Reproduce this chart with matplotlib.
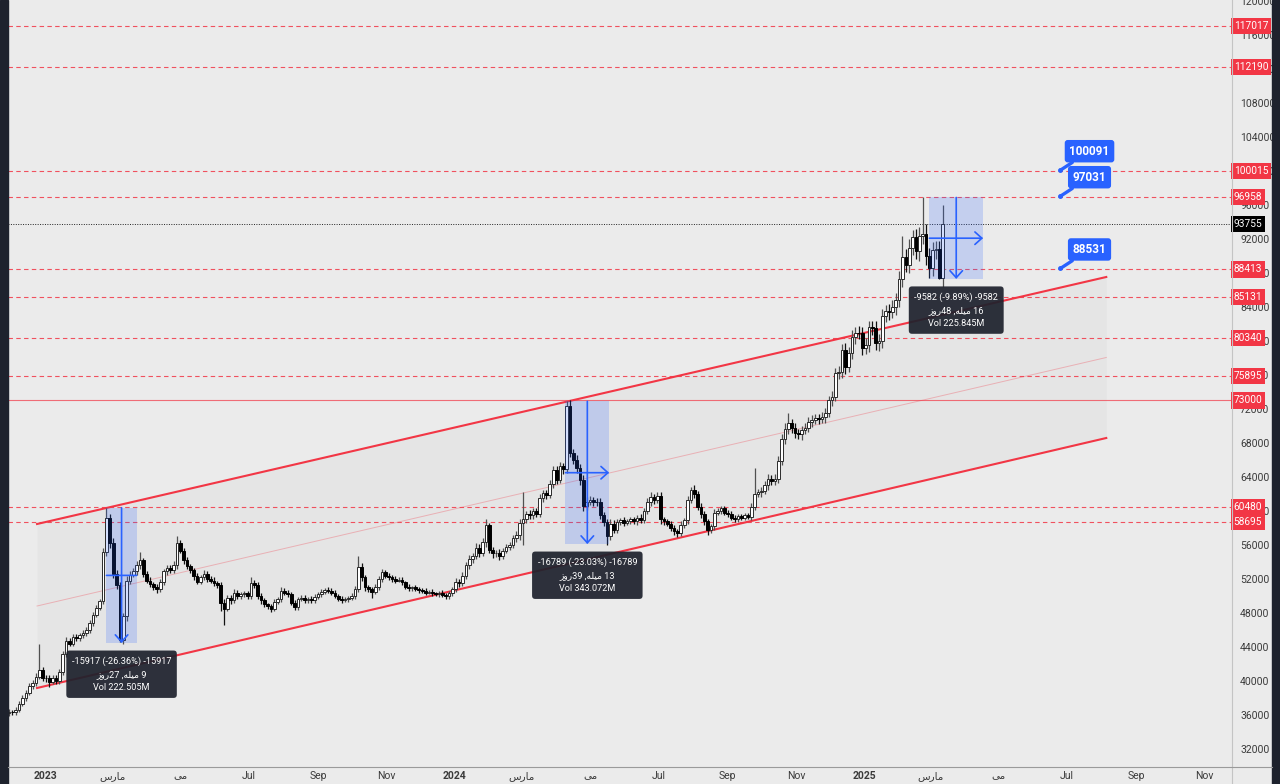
import numpy as np
import pandas as pd
import matplotlib
matplotlib.use('Agg')
import matplotlib.pyplot as plt
import matplotlib.dates as mdates
import matplotlib.transforms as mtransforms
from matplotlib.patches import Rectangle
from matplotlib.lines import Line2D

plt.rcParams['font.family'] = ['Roboto', 'DejaVu Sans']

# ---- 3-day candles (open = previous close) ----
first_open = 36200
closes = [
    36400, 36300, 36600, 37300, 38000, 38600, 39400, 39800, 40500, 41300,
    40400, 40300, 39900, 40400, 40000, 41000, 43200, 44700, 44400, 45200,
    45000, 45400, 45600, 46000, 46800, 47800, 48600, 49400, 55200, 59200,
    56200, 52600, 51300, 44800, 47600, 51800, 52500, 52900, 53600, 54200,
    52600, 51800, 51400, 51100, 50800, 51600, 52900, 53300, 53000, 53600,
    56200, 55300, 54200, 53500, 53000, 52300, 51700, 52200, 52600, 52000,
    51800, 51500, 51300, 49200, 48500, 49800, 49500, 50400, 50000, 50200,
    50300, 50000, 51500, 51300, 50000, 49500, 49000, 48800, 48500, 49300,
    49600, 50600, 50400, 50200, 49200, 48700, 49600, 49800, 49500, 49700,
    49500, 49900, 50200, 50500, 50700, 50600, 50400, 50000, 49700, 49500,
    49600, 49800, 50000, 50800, 53400, 52200, 51000, 50800, 50500, 51000,
    52000, 52800, 52400, 52200, 52000, 51800, 51900, 51600, 51100, 50900,
    51000, 50800, 50700, 50600, 50400, 50500, 50300, 50200, 50400, 50100,
    50000, 50300, 50800, 51700, 51500, 52400, 53600, 54300, 54700, 55700,
    55100, 56300, 58300, 55400, 55000, 55100, 54700, 55300, 55800, 56000,
    56800, 57200, 58600, 59000, 59600, 59500, 60000, 59700, 61500, 62100,
    61900, 63200, 64800, 63700, 65300, 64900, 72300, 66800, 66000, 65000,
    63600, 60600, 61100, 61300, 61100, 61000, 59500, 58700, 57000, 58500,
    57800, 58700, 58900, 58600, 58800, 59000, 58800, 59200, 58900, 60000,
    61000, 61600, 61300, 61800, 59000, 58800, 58500, 58000, 57600, 57400,
    58400, 58900, 61300, 62500, 62000, 60500, 59700, 58800, 57800, 58200,
    59800, 60000, 60300, 59800, 59700, 59200, 59000, 59400, 59200, 59500,
    59300, 60500, 62000, 62200, 62400, 63000, 63800, 63500, 63800, 65900,
    68500, 69600, 70300, 69800, 69200, 69000, 69500, 69800, 70500, 70700,
    70900, 70800, 71000, 71500, 73000, 73400, 76200, 76400, 79000, 77000,
    78600, 80500, 81000, 80900, 79200, 79500, 81600, 81500, 79800, 80000,
    83000, 83500, 83400, 84000, 84800, 87300, 89900, 89000, 91000, 92200,
    90600, 92400, 92600, 90000, 88600, 90700, 90800, 87400, 93755,
]
upper_wicks = [
    300, 200, 300, 300, 400, 300, 400, 300, 400, 3100,
    300, 300, 400, 300, 300, 400, 300, 500, 400, 300,
    300, 300, 400, 300, 400, 300, 300, 300, 500, 1200,
    500, 600, 500, 300, 400, 500, 400, 400, 500, 1000,
    300, 300, 400, 300, 300, 400, 300, 400, 300, 500,
    800, 400, 300, 400, 300, 300, 400, 300, 500, 300,
    300, 400, 300, 300, 400, 300, 300, 400, 300, 300,
    300, 300, 700, 400, 300, 300, 300, 200, 300, 300,
    300, 400, 300, 300, 300, 300, 300, 300, 300, 200,
    300, 300, 300, 300, 200, 300, 300, 300, 200, 300,
    300, 200, 300, 400, 1300, 500, 300, 300, 300, 400,
    400, 400, 300, 300, 300, 300, 300, 300, 200, 300,
    200, 300, 200, 200, 300, 200, 300, 200, 200, 300,
    200, 300, 300, 400, 300, 400, 400, 500, 400, 500,
    400, 500, 700, 300, 400, 300, 400, 400, 300, 400,
    400, 500, 500, 3200, 400, 500, 400, 400, 500, 400,
    400, 400, 500, 500, 500, 400, 600, 700, 500, 600,
    500, 600, 500, 500, 400, 400, 500, 400, 400, 500,
    400, 400, 300, 400, 300, 300, 300, 300, 400, 400,
    500, 600, 400, 400, 400, 300, 300, 300, 300, 300,
    400, 300, 500, 300, 500, 400, 400, 300, 300, 300,
    400, 300, 300, 300, 300, 300, 300, 300, 200, 300,
    300, 400, 3000, 400, 400, 500, 500, 400, 500, 600,
    600, 700, 1200, 500, 600, 500, 500, 500, 500, 600,
    500, 500, 600, 600, 500, 700, 600, 700, 700, 800,
    700, 800, 700, 800, 700, 800, 800, 700, 900, 800,
    800, 700, 900, 800, 900, 900, 2500, 900, 1000, 900,
    1000, 1000, 4300, 1200, 1000, 900, 1000, 1000, 2200,
]
lower_wicks = [
    300, 300, 300, 300, 300, 400, 300, 300, 400, 300,
    400, 400, 600, 300, 400, 300, 300, 400, 300, 300,
    300, 300, 300, 300, 300, 300, 300, 300, 400, 500,
    500, 500, 500, 240, 400, 500, 400, 300, 400, 400,
    400, 300, 300, 400, 400, 300, 300, 400, 300, 300,
    400, 300, 400, 300, 300, 400, 300, 300, 300, 400,
    300, 300, 400, 1000, 1900, 300, 400, 300, 400, 300,
    300, 300, 300, 400, 300, 400, 300, 300, 400, 300,
    300, 300, 300, 300, 300, 400, 300, 200, 300, 300,
    300, 300, 200, 300, 300, 300, 300, 200, 300, 300,
    200, 300, 300, 300, 300, 400, 400, 300, 700, 300,
    300, 300, 300, 300, 300, 300, 200, 300, 300, 300,
    300, 200, 300, 200, 300, 200, 300, 200, 300, 200,
    300, 300, 300, 300, 400, 300, 400, 400, 400, 400,
    500, 400, 500, 400, 500, 400, 500, 400, 300, 400,
    400, 400, 600, 2600, 400, 500, 400, 400, 400, 500,
    500, 400, 500, 500, 400, 500, 400, 500, 500, 500,
    500, 600, 500, 400, 500, 400, 500, 500, 1000, 400,
    400, 400, 300, 400, 300, 300, 300, 400, 300, 300,
    400, 400, 500, 400, 500, 400, 300, 400, 400, 500,
    300, 400, 400, 400, 500, 400, 500, 400, 600, 400,
    400, 300, 400, 300, 400, 300, 300, 300, 300, 300,
    300, 400, 400, 400, 500, 400, 500, 400, 500, 500,
    500, 600, 500, 600, 600, 500, 600, 500, 500, 600,
    500, 600, 500, 600, 500, 600, 500, 700, 700, 900,
    700, 700, 800, 700, 900, 700, 800, 800, 900, 1000,
    800, 800, 900, 700, 900, 800, 900, 900, 1000, 900,
    1000, 1200, 1000, 1000, 1200, 900, 1000, 100, 1000,
]
candle_dates = pd.date_range('2022-11-29', periods=len(closes), freq='3D')

# ---- horizontal levels ----
dashed_levels = [117017, 112190, 100015, 96958, 88413, 85131, 80340, 75895, 60480, 58695]
solid_level = 73000
last_price = 93755

# ---- parallel channel ----
channel_dates = pd.to_datetime(['2022-12-24', '2025-08-05'])
channel_upper = [58470, 87530]
channel_lower = [39176, 68588]

# ---- price/date range measurements ----
meas_start = pd.to_datetime(['2023-02-24', '2024-04-09', '2025-02-28'])
meas_end = pd.to_datetime(['2023-03-23', '2024-05-18', '2025-04-17'])
meas_top = [60383, 72900, 96886]
meas_change = [-15917, -16789, -9582]
meas_pct = [-26.36, -23.03, -9.89]
meas_bars = [9, 13, 16]
meas_days = [27, 39, 48]
meas_vol = ['222.505M', '343.072M', '225.845M']

# ---- price notes ----
note_values = [100091, 97031, 88531]
note_date = pd.Timestamp('2025-06-25')

# ---- axes ----
tick_dates = pd.date_range('2023-01-01', '2025-11-01', freq='2MS')
tick_names = ['2023', 'مارس', 'می', 'Jul', 'Sep', 'Nov',
              '2024', 'مارس', 'می', 'Jul', 'Sep', 'Nov',
              '2025', 'مارس', 'می', 'Jul', 'Sep', 'Nov']
price_ticks = list(range(32000, 120001, 4000))

FORMS = {  # isolated, final, initial, medial
    'م': ('\uFEE1', '\uFEE2', '\uFEE3', '\uFEE4'),
    'ا': ('\uFE8D', '\uFE8E', None, None),
    'ر': ('\uFEAD', '\uFEAE', None, None),
    'س': ('\uFEB1', '\uFEB2', '\uFEB3', '\uFEB4'),
    'ی': ('\uFEEF', '\uFEF0', '\uFEF3', '\uFEF4'),
    'ل': ('\uFEDD', '\uFEDE', '\uFEDF', '\uFEE0'),
    'ه': ('\uFEE9', '\uFEEA', '\uFEEB', '\uFEEC'),
    'و': ('\uFEED', '\uFEEE', None, None),
    'ز': ('\uFEAF', '\uFEB0', None, None),
}


def shape(word):
    # matplotlib has no Arabic shaping: pick joined forms and reverse for display
    if not any(ch in FORMS for ch in word):
        return word
    out = []
    for k, ch in enumerate(word):
        prev = k > 0 and FORMS[word[k - 1]][2] is not None
        nxt = FORMS[ch][2] is not None and k < len(word) - 1
        idx = 3 if (prev and nxt) else 1 if prev else 2 if nxt else 0
        out.append(FORMS[ch][idx])
    return ''.join(reversed(out))


W, H = 1280, 784
BG = '#ebebeb'
RED = '#f23645'
BLUE = '#2962ff'

fig = plt.figure(figsize=(12.8, 7.84), dpi=100, facecolor=BG)
ax = fig.add_axes([8 / W, 17 / H, 1223 / W, 767 / H])
ax.set_facecolor(BG)
for s in ax.spines.values():
    s.set_visible(False)

# channel
ax.fill_between(channel_dates, channel_lower, channel_upper, color='black', alpha=0.025, lw=0, zorder=1)
ax.plot(channel_dates, channel_upper, color=RED, lw=1.5, zorder=3)
ax.plot(channel_dates, channel_lower, color=RED, lw=1.5, zorder=3)
ax.plot(channel_dates, [(a + b) / 2 for a, b in zip(channel_upper, channel_lower)],
        color=RED, lw=0.7, alpha=0.3, zorder=3)

# levels
for lvl in dashed_levels:
    ax.axhline(lvl, color=RED, lw=0.8, ls=(0, (4, 3)), alpha=0.85, zorder=2)
ax.axhline(solid_level, color=RED, lw=0.8, alpha=0.7, zorder=2)
ax.axhline(last_price, color='#222222', lw=0.7, ls=(0, (1, 1.5)), zorder=2)

# candles
x = mdates.date2num(candle_dates)
c = np.array(closes, dtype=float)
o = np.r_[first_open, c[:-1]]
hi = np.maximum(o, c) + np.array(upper_wicks)
lo = np.minimum(o, c) - np.array(lower_wicks)
up = c >= o
ax.vlines(x[up], lo[up], hi[up], color='#505050', lw=0.9, zorder=4)
ax.vlines(x[~up], lo[~up], hi[~up], color='#111111', lw=0.9, zorder=4)
body = np.maximum(np.abs(c - o), 100)
ax.bar(x[up], body[up], bottom=np.minimum(o, c)[up], width=2.4,
       color='white', edgecolor='#2b2b2b', lw=0.7, zorder=4.5)
ax.bar(x[~up], body[~up], bottom=np.minimum(o, c)[~up], width=2.4,
       color='black', edgecolor='black', lw=0.7, zorder=4.5)

# measurements
for i in range(3):
    x0, x1 = mdates.date2num(meas_start[i]), mdates.date2num(meas_end[i])
    top = meas_top[i]
    bot = top + meas_change[i]
    xm = (x0 + x1) / 2
    ym = (top + bot) / 2
    ax.add_patch(Rectangle((x0, bot), x1 - x0, top - bot, fc=BLUE, alpha=0.2, ec='none', zorder=5))
    ax.annotate('', xy=(xm, bot), xytext=(xm, top),
                arrowprops=dict(arrowstyle='->,head_length=0.5,head_width=0.45', color=BLUE,
                                lw=1.2, shrinkA=0, shrinkB=0), zorder=6)
    hstyle = '-' if i == 0 else '->,head_length=0.5,head_width=0.45'
    ax.annotate('', xy=(x1, ym), xytext=(x0, ym),
                arrowprops=dict(arrowstyle=hstyle, color=BLUE, lw=1.2, shrinkA=0, shrinkB=0), zorder=6)
    txt = (f'{meas_change[i]} ({meas_pct[i]:.2f}%) {meas_change[i]}\n'
           f'{shape("روز")}{meas_days[i]} ,{shape("میله")} {meas_bars[i]}\n'
           f'Vol {meas_vol[i]}')
    ax.annotate(txt, xy=(xm, bot), xytext=(0, -22.5), textcoords='offset points',
                ha='center', va='center', fontsize=6.6, color='white', linespacing=1.62,
                bbox=dict(boxstyle='round,pad=0.6,rounding_size=0.35', fc='#1e222d', ec='none', alpha=0.93),
                zorder=12)

# notes
nx = mdates.date2num(note_date)
for v in note_values:
    ax.annotate(str(v), xy=(nx, v), xytext=(21, 13.7), textcoords='offset points',
                ha='center', va='center', fontsize=8.5, fontweight='bold', color='white',
                bbox=dict(boxstyle='round,pad=0.4,rounding_size=0.25', fc=BLUE, ec='none'),
                arrowprops=dict(arrowstyle='-', color=BLUE, lw=2.4, shrinkA=0, shrinkB=0),
                zorder=12)
    ax.plot(nx, v, 'o', ms=2.5, color=BLUE, zorder=12)

# ticks (set before the limits, so the limits stay as chosen)
ax.set_xticks(mdates.date2num(tick_dates))
ax.set_xticklabels([shape(s) for s in tick_names])
for lab, name in zip(ax.get_xticklabels(), tick_names):
    if name.isdigit():
        lab.set_fontweight('bold')
        lab.set_color('#131722')
ax.tick_params(axis='x', length=0, pad=3, labelsize=7.5, colors='#3a3a3a')
ax.yaxis.tick_right()
ax.set_yticks(price_ticks)
ax.set_yticklabels([str(v) for v in price_ticks])
ax.tick_params(axis='y', length=0, pad=6.5, labelsize=7.5, colors='#3a3a3a')

ax.set_xlim(pd.Timestamp('2022-11-28 01:30'), pd.Timestamp('2025-11-24 10:00'))
ax.set_ylim(29882, 120118)

# price labels on the right scale
blend = mtransforms.blended_transform_factory(ax.transAxes, ax.transData)
for lvl in dashed_levels + [solid_level]:
    ax.text(1.0022, lvl, str(lvl), transform=blend, ha='left', va='center', fontsize=7.3,
            color='white', bbox=dict(boxstyle='square,pad=0.3', fc=RED, ec='none'),
            zorder=20, clip_on=False)
ax.text(1.0022, last_price, str(last_price), transform=blend, ha='left', va='center', fontsize=7.3,
        color='white', bbox=dict(boxstyle='square,pad=0.3', fc='black', ec='none'),
        zorder=20, clip_on=False)

# frame pieces
fig.add_artist(Line2D([1231.5 / W] * 2, [0, 1], color='#c4c4c4', lw=0.8))
fig.add_artist(Line2D([8 / W, 1272 / W], [17 / H] * 2, color='#9a9a9a', lw=0.8))
fig.add_artist(Rectangle((0, 0), 8 / W, 1, transform=fig.transFigure, color='#1e222d'))
fig.add_artist(Rectangle((1272 / W, 0), 8 / W, 1, transform=fig.transFigure, color='#1e222d'))

fig.savefig('out.png', dpi=100, facecolor=BG)
